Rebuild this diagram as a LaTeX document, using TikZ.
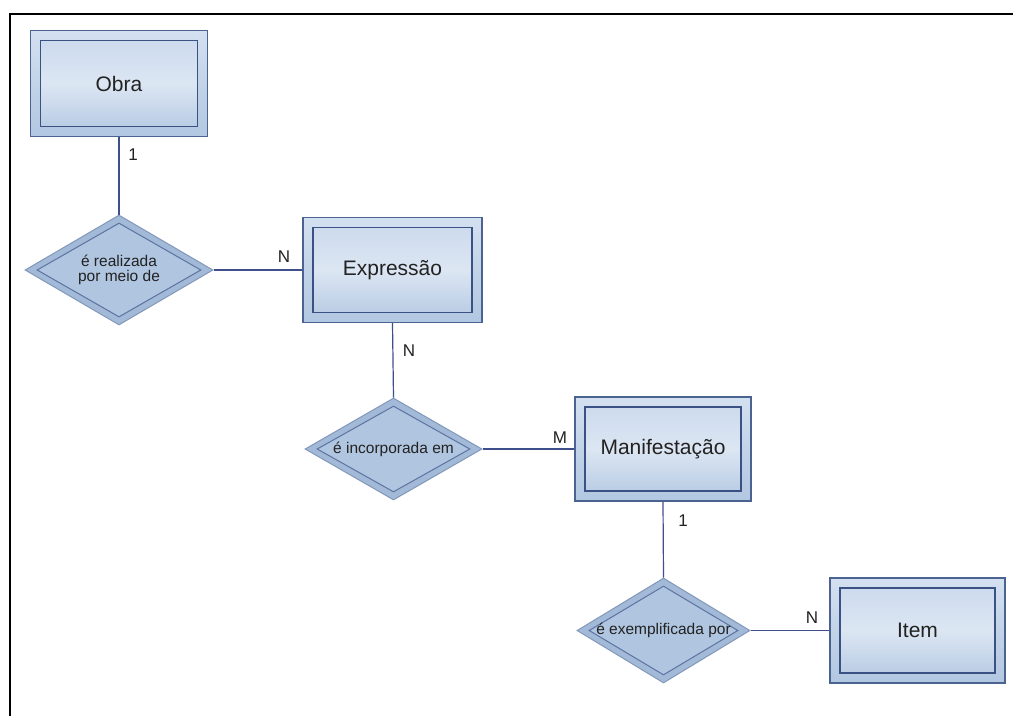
\documentclass[tikz,border=0pt]{standalone}
\usepackage{fontspec}
\setmainfont{Liberation Sans}
\usetikzlibrary{shapes.geometric}
\definecolor{erborder}{HTML}{4A6391}
\definecolor{erinner}{HTML}{3A5283}
\definecolor{ertop}{HTML}{D3E0F0}
\definecolor{erbot}{HTML}{B2C7E1}
\definecolor{ertopin}{HTML}{C9D8EC}
\definecolor{ermid}{HTML}{DCE6F3}
\definecolor{dmfill}{HTML}{A3B9D8}
\definecolor{dmborder}{HTML}{8298BA}
\definecolor{dminner}{HTML}{5C74A2}
\definecolor{dmin}{HTML}{B0C5E0}
\definecolor{conn}{HTML}{3F4F8C}
\definecolor{txt}{HTML}{222222}
\tikzset{
  entity/.style={rectangle, draw=erborder, line width=1.3pt, top color=ertop, bottom color=erbot,
    minimum width=177pt, minimum height=106pt, inner sep=0pt, text=txt, font=\fontsize{21}{24}\selectfont,
    path picture={
      \shade[top color=ertopin, bottom color=erbot, middle color=ermid]
        ([shift={(10pt,-10pt)}]path picture bounding box.north west) rectangle
        ([shift={(-10pt,10pt)}]path picture bounding box.south east);
      \draw[erinner, line width=1.3pt]
        ([shift={(10pt,-10pt)}]path picture bounding box.north west) rectangle
        ([shift={(-10pt,10pt)}]path picture bounding box.south east);
    }},
  relation/.style={diamond, draw=dmborder, line width=1pt, fill=dmfill,
    minimum width=180pt, minimum height=106pt, inner sep=0pt, text=txt, align=center,
    font=\fontsize{15.5}{16}\selectfont,
    path picture={
      \fill[dmin] ([xshift=12pt]path picture bounding box.west) -- ([yshift=-8pt]path picture bounding box.north)
        -- ([xshift=-12pt]path picture bounding box.east) -- ([yshift=8pt]path picture bounding box.south) -- cycle;
      \draw[dminner, line width=1pt] ([xshift=12pt]path picture bounding box.west) -- ([yshift=-8pt]path picture bounding box.north)
        -- ([xshift=-12pt]path picture bounding box.east) -- ([yshift=8pt]path picture bounding box.south) -- cycle;
    }},
  link/.style={draw=conn, line width=1.2pt},
  card/.style={text=txt, font=\fontsize{17}{19}\selectfont, inner sep=0pt}
}
\begin{document}
\begin{tikzpicture}[x=1pt,y=-1pt]
\useasboundingbox (0,0) rectangle (1013,716);
\fill[white] (0,0) rectangle (1013,716);
\draw[black, line width=1.5pt] (10,716) -- (10,14) -- (1013,14);

\node[entity] (obra) at (119,83.5) {Obra};
\node[relation, minimum width=188pt, minimum height=110pt] (r1) at (119,270)
  {\makebox[0pt]{\shortstack{é realizada\\[1pt]por meio de}}};
\node[entity, minimum width=179pt, minimum height=105pt] (expr) at (392.5,270) {Expressão};
\node[relation, minimum width=177pt, minimum height=102pt] (r2) at (393.5,449) {\makebox[0pt]{é incorporada em}};
\node[entity, minimum width=176pt, minimum height=104pt] (manif) at (663,449) {Manifestação};
\node[relation, minimum width=173pt, minimum height=105pt] (r3) at (663.5,630.5) {\makebox[0pt]{é exemplificada por}};
\node[entity, minimum width=175pt, minimum height=105pt] (item) at (917.5,630.5) {Item};

\draw[link] (obra.south) -- (r1.north);
\draw[link] (r1.east) -- (expr.west);
\draw[link] (expr.south) -- (r2.north);
\draw[link] (r2.east) -- (manif.west);
\draw[link] (manif.south) -- (r3.north);
\draw[link] (r3.east) -- (item.west);

\node[card] (c1) at (133,155) {1};
\node[card] (c2) at (284,257) {N};
\node[card] (c3) at (409,351) {N};
\node[card] (c4) at (560,438) {M};
\node[card] (c5) at (683,521) {1};
\node[card] (c6) at (812,618) {N};
\end{tikzpicture}
\end{document}
